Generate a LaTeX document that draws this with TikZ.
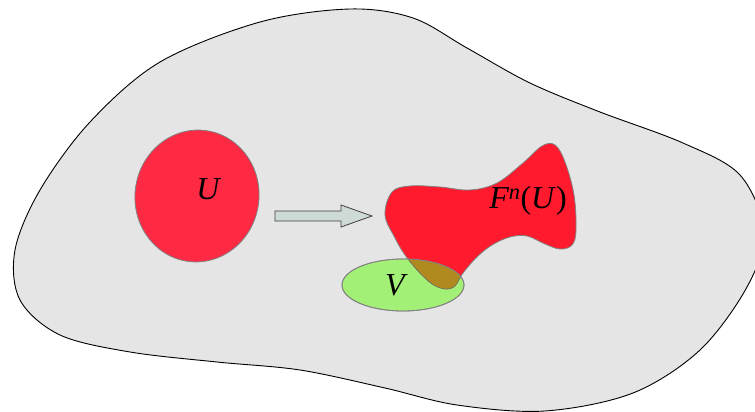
\documentclass[tikz,border=0pt]{standalone}
\usepackage{fontspec}
\setmainfont{Liberation Serif}
\definecolor{bgfill}{RGB}{229,229,229}
\definecolor{ured}{RGB}{254,42,68}
\definecolor{fred}{RGB}{255,26,45}
\definecolor{vgreen}{RGB}{163,240,118}
\definecolor{overlap}{RGB}{176,138,30}
\definecolor{arrowfill}{RGB}{206,218,214}
\definecolor{edgegrey}{RGB}{130,130,130}
\tikzset{
  setshape/.style={draw=edgegrey, line width=0.8pt},
  lbl/.style={font=\fontsize{32}{36}\selectfont\itshape, inner sep=0pt},
}
\begin{document}
\begin{tikzpicture}[x=1pt,y=-1pt]
\useasboundingbox (0,0) rectangle (755,412);
\clip (0,0) rectangle (755,412);
\fill[white] (0,0) rectangle (755,412);
% outer space
\draw[fill=bgfill, draw=black, line width=0.9pt] plot[smooth cycle, tension=0.55] coordinates {
 (260,22) (350,9) (413,18) (467,48) (530,83) (600,112) (683,143) (740,175)
 (764,232) (747,287) (700,350) (633,393) (545,411) (457,405) (385,388) (300,370)
 (217,362) (130,352) (60,335) (20,300) (15,250) (40,190) (90,122) (160,62)};
% U
\draw[setshape, fill=ured, rotate around={-8:(197,196)}] (197,196) ellipse [x radius=62, y radius=66];
\node[lbl] (u) at (208,189) {U};
% arrow
\draw[fill=arrowfill, draw=black!75, line width=0.8pt]
  (275,211) -- (341,211) -- (341,205) -- (372,216) -- (341,227) -- (341,221) -- (275,221) -- cycle;
% F^n(U)
\def\fpath{plot[smooth cycle, tension=0.6] coordinates {
 (385,215) (392,192) (410,186) (440,187) (470,190) (497,183) (523,163) (542,146)
 (555,145) (565,162) (574,195) (576,230) (572,245) (560,249) (545,244) (527,236)
 (510,237) (492,245) (477,257) (463,273) (455,286) (445,289) (432,284) (418,271)
 (405,255) (395,238)}}
\draw[setshape, fill=fred] \fpath;
% V
\draw[setshape, fill=vgreen] (403,285) ellipse [x radius=61, y radius=26];
\begin{scope}
  \clip (403,285) ellipse [x radius=61, y radius=26];
  \fill[overlap] \fpath;
  \draw[draw=edgegrey!80!black, line width=0.6pt] \fpath;
\end{scope}
\draw[draw=edgegrey, line width=0.8pt] (403,285) ellipse [x radius=61, y radius=26];
\node[lbl] (v) at (395,285) {V};
\node[lbl] (fu) at (528,201) {F\textsuperscript{n}\textup{(}U\textup{)}};
\end{tikzpicture}
\end{document}
